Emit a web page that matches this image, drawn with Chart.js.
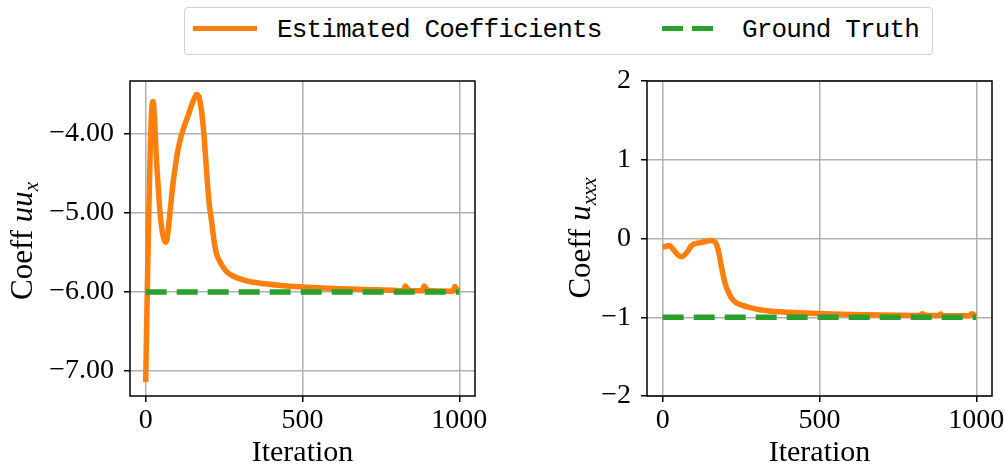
<!DOCTYPE html>
<html>
<head>
<meta charset="utf-8">
<script src="https://cdn.jsdelivr.net/npm/chart.js@4/dist/chart.umd.min.js"></script>
<style>
  body { margin: 0; width: 1005px; height: 469px; overflow: hidden; background: #fff; position: relative; }
  canvas { position: absolute; top: 0; }
  #legend { position: absolute; left: 184px; top: 7px; width: 749px; height: 48px; box-sizing: border-box;
            border: 1.5px solid #d0d0d0; border-radius: 4px; background: #fff; }
  .handle { position: absolute; height: 5px; top: 26px; }
  .label { position: absolute; top: 17px; font: 26px/26px 'Liberation Mono', monospace; letter-spacing: -0.85px;
           color: #000; white-space: nowrap; }
</style>
</head>
<body>
<canvas id="uuxChart" width="500" height="469" style="left:0"></canvas>
<canvas id="uxxxChart" width="520" height="469" style="left:500px"></canvas>

<div id="legend"></div>
<div class="handle" style="left:193px; width:64px; background:#ff7f0e"></div>
<div class="label" style="left:277px">Estimated Coefficients</div>
<div class="handle" style="left:662px; width:51px; background:linear-gradient(to right,#2ca02c 0 21px,transparent 21px 30px,#2ca02c 30px 51px)"></div>
<div class="label" style="left:742px">Ground Truth</div>

<script>
// iteration ticks shared by both panels
const iterTicks = [0, 500, 1000];
const iterSpan = [0, 1000];

// coefficient of u*u_x over training
const uuxIters = [0, 5, 10, 15, 18, 21, 23, 26, 30, 34, 38, 43, 49, 56, 64, 70, 76, 82, 88, 95,
  103, 113, 123, 135, 147, 156, 162, 167, 172, 177, 182, 187, 192, 197, 203, 210, 218, 226, 236, 246,
  260, 280, 305, 335, 380, 440, 500, 600, 700, 800, 822, 828, 836, 848, 882, 888, 896, 908, 980, 986, 993, 1000];
const uuxCoeff = [-7.14, -6.0, -4.98, -4.12, -3.78, -3.62, -3.59, -3.66, -3.95, -4.3, -4.55, -4.85, -5.12, -5.3, -5.37, -5.28, -5.05, -4.82, -4.6, -4.4,
  -4.2, -4.03, -3.9, -3.77, -3.63, -3.54, -3.5, -3.51, -3.56, -3.68, -3.85, -4.07, -4.35, -4.62, -4.9, -5.1, -5.35, -5.52, -5.61, -5.68,
  -5.75, -5.8, -5.84, -5.87, -5.895, -5.92, -5.935, -5.955, -5.968, -5.98, -5.985, -5.925, -5.965, -5.985, -5.985, -5.925, -5.965, -5.985, -5.99, -5.93, -5.97, -5.985];
const uuxTruth = -6;
const uuxTicks = [-7, -6, -5, -4];

// coefficient of u_xxx over training
const uxxxIters = [0, 10, 20, 28, 38, 50, 60, 70, 80, 90, 100, 115, 130, 145, 155, 163, 170, 176, 181, 186,
  192, 197, 204, 213, 222, 234, 255, 276, 308, 340, 400, 450, 540, 650, 750, 820, 827, 834, 845, 880,
  886, 892, 905, 978, 985, 992, 1000];
const uxxxCoeff = [-0.11, -0.1, -0.09, -0.11, -0.16, -0.215, -0.232, -0.21, -0.16, -0.1, -0.07, -0.056, -0.045, -0.03, -0.025, -0.035, -0.06, -0.13, -0.22, -0.33,
  -0.45, -0.54, -0.63, -0.71, -0.77, -0.815, -0.85, -0.875, -0.905, -0.92, -0.935, -0.945, -0.958, -0.968, -0.975, -0.978, -0.955, -0.97, -0.978, -0.978,
  -0.96, -0.975, -0.98, -0.98, -0.955, -0.97, -0.978];
const uxxxTruth = -1;
const uxxxTicks = [-2, -1, 0, 1, 2];

const serif = "'Liberation Serif', serif";
const minus = v => (v < 0 ? '\u2212' : '') + Math.abs(v);

// axes box plus a rotated y title with an italic, subscripted math part
const framePlugin = {
  id: 'frame',
  afterDraw(chart, args, opts) {
    const { ctx, chartArea: a } = chart;
    ctx.save();
    ctx.strokeStyle = '#000';
    ctx.lineWidth = 1.5;
    ctx.strokeRect(a.left, a.top, a.right - a.left, a.bottom - a.top);

    ctx.translate(opts.x, opts.y);
    ctx.rotate(-Math.PI / 2);
    ctx.fillStyle = '#000';
    ctx.textBaseline = 'alphabetic';
    let total = 0;
    for (const p of opts.parts) { ctx.font = p.font; total += ctx.measureText(p.text).width; }
    let pos = -total / 2;
    for (const p of opts.parts) {
      ctx.font = p.font;
      ctx.fillText(p.text, pos, p.dy || 0);
      pos += ctx.measureText(p.text).width;
    }
    ctx.restore();
  }
};

function makeChart(id, iters, coeff, truth, yMin, yMax, yTicks, fmt, box, title) {
  const line = iters.map((x, i) => ({ x, y: coeff[i] }));
  const truthLine = iterSpan.map(x => ({ x, y: truth }));
  return new Chart(document.getElementById(id), {
    type: 'line',
    data: {
      datasets: [
        { label: 'Ground Truth', data: truthLine, borderColor: '#2ca02c', borderWidth: 5.5,
          borderDash: [21, 10], pointRadius: 0, order: 0 },
        { label: 'Estimated Coefficients', data: line, borderColor: '#ff7f0e', borderWidth: 5.5,
          borderJoinStyle: 'round', cubicInterpolationMode: 'monotone', pointRadius: 0, order: 1 }
      ]
    },
    options: {
      responsive: false,
      animation: false,
      devicePixelRatio: 1,
      layout: { padding: { top: 81, right: box.right, left: 0, bottom: 0 } },
      plugins: {
        legend: { display: false },
        tooltip: { enabled: false },
        frame: title
      },
      scales: {
        x: {
          type: 'linear', min: -50, max: 1050,
          afterBuildTicks: s => { s.ticks = iterTicks.map(value => ({ value })); },
          afterFit: s => { s.height = 73; s.paddingLeft = 0; s.paddingRight = 0; },
          ticks: { color: '#000', font: { family: serif, size: 28, lineHeight: 1 }, padding: 5, maxRotation: 0,
                   callback: v => String(v) },
          grid: { color: '#b0b0b0', lineWidth: 1.5, tickColor: '#000', tickWidth: 1.5, tickLength: 6 },
          border: { display: false },
          title: { display: true, text: 'Iteration', color: '#000',
                   font: { family: serif, size: 30, lineHeight: 1 }, padding: { top: 0, bottom: 1 } }
        },
        y: {
          type: 'linear', min: yMin, max: yMax,
          afterBuildTicks: s => { s.ticks = yTicks.map(value => ({ value })); },
          afterFit: s => { s.width = box.left; },
          ticks: { color: '#000', font: { family: serif, size: 28, lineHeight: 1 }, padding: 10, callback: fmt },
          grid: { color: '#b0b0b0', lineWidth: 1.5, tickColor: '#000', tickWidth: 1.5, tickLength: 6 },
          border: { display: false }
        }
      }
    },
    plugins: [framePlugin]
  });
}

makeChart('uuxChart', uuxIters, uuxCoeff, uuxTruth, -7.316, -3.329, uuxTicks,
  v => minus(v).replace(/\d+$/, d => Number(d).toFixed(2)), { left: 130, right: 25 },
  { x: 32, y: 241, parts: [
    { text: 'Coeff ', font: `31px ${serif}` },
    { text: 'uu', font: `italic 31px ${serif}` },
    { text: 'x', font: `italic 21px ${serif}`, dy: 6 }
  ] });

makeChart('uxxxChart', uxxxIters, uxxxCoeff, uxxxTruth, -2, 2, uxxxTicks,
  v => minus(v), { left: 147, right: 28 },
  { x: 90, y: 238, parts: [
    { text: 'Coeff ', font: `31px ${serif}` },
    { text: 'u', font: `italic 31px ${serif}` },
    { text: 'xxx', font: `italic 21px ${serif}`, dy: 6 }
  ] });
</script>
</body>
</html>
